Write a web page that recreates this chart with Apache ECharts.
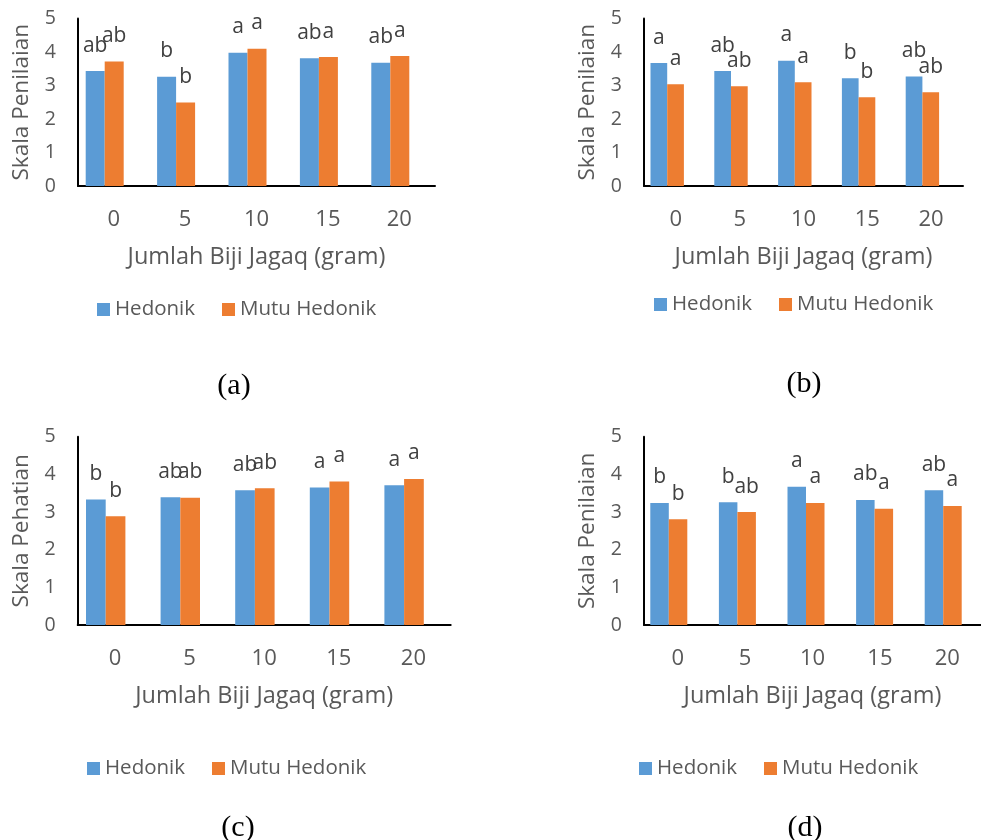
<!DOCTYPE html>
<html>
<head>
<meta charset="utf-8">
<script src="https://cdn.jsdelivr.net/npm/echarts@6/dist/echarts.min.js"></script>
<style>
html,body{margin:0;padding:0;background:#fff;}
#chart{width:981px;height:840px;}
</style>
</head>
<body>
<div id="chart"></div>
<script>
// ---- data ----
const categories = ['0', '5', '10', '15', '20'];
const seriesNames = ['Hedonik', 'Mutu Hedonik'];

const aHedonik = [3.43, 3.26, 3.98, 3.81, 3.68];
const aMutu    = [3.72, 2.49, 4.10, 3.85, 3.88];
const aHedonikLetters = ['ab', 'b', 'a', 'ab', 'ab'];
const aMutuLetters    = ['ab', 'b', 'a', 'a', 'a'];

const bHedonik = [3.67, 3.43, 3.74, 3.22, 3.27];
const bMutu    = [3.04, 2.98, 3.10, 2.65, 2.80];
const bHedonikLetters = ['a', 'ab', 'a', 'b', 'ab'];
const bMutuLetters    = ['a', 'ab', 'a', 'b', 'ab'];

const cHedonik = [3.33, 3.39, 3.58, 3.65, 3.71];
const cMutu    = [2.89, 3.38, 3.63, 3.81, 3.88];
const cHedonikLetters = ['b', 'ab', 'ab', 'a', 'a'];
const cMutuLetters    = ['b', 'ab', 'ab', 'a', 'a'];

const dHedonik = [3.24, 3.26, 3.67, 3.32, 3.58];
const dMutu    = [2.81, 3.00, 3.24, 3.09, 3.16];
const dHedonikLetters = ['b', 'b', 'a', 'ab', 'ab'];
const dMutuLetters    = ['b', 'ab', 'a', 'a', 'a'];

const yTicks = [0, 1, 2, 3, 4, 5];
const xAxisName = 'Jumlah Biji Jagaq (gram)';
const yAxisNames = ['Skala Penilaian', 'Skala Penilaian', 'Skala Pehatian', 'Skala Penilaian'];
const captions = ['(a)', '(b)', '(c)', '(d)'];

// ---- layout / style ----
const FONT = '"Open Sans", sans-serif';
const GRAY = '#595959';
const BLUE = '#5B9BD5';
const ORANGE = '#ED7D31';

const panels = [
  {hed: aHedonik, mutu: aMutu, hl: aHedonikLetters, ml: aMutuLetters,
   axisLeft: 78, width: 357, top: 18.5, height: 167.5, shift: 9, barW: 19,
   legend: {left: 97, top: 299}, cap: {x: 234, y: 386}},
  {hed: bHedonik, mutu: bMutu, hl: bHedonikLetters, ml: bMutuLetters,
   axisLeft: 644, width: 319, top: 18.5, height: 167.5, shift: 8.7, barW: 16.7,
   legend: {left: 654, top: 294}, cap: {x: 804, y: 384}},
  {hed: cHedonik, mutu: cMutu, hl: cHedonikLetters, ml: cMutuLetters,
   axisLeft: 77.7, width: 373, top: 436.7, height: 188.3, shift: 9.3, barW: 19.7,
   legend: {left: 87, top: 758}, cap: {x: 238, y: 828}},
  {hed: dHedonik, mutu: dMutu, hl: dHedonikLetters, ml: dMutuLetters,
   axisLeft: 644, width: 343, top: 436.7, height: 188.3, shift: 9.5, barW: 18.5,
   legend: {left: 639, top: 758}, cap: {x: 805, y: 828}}
];

const grid = [], xAxis = [], yAxis = [], series = [], legend = [], graphic = [];

panels.forEach((p, i) => {
  // axes grid (visible axes)
  grid.push({left: p.axisLeft, top: p.top, width: p.width, height: p.height, containLabel: false});
  // bars grid (hidden axes, shifted left)
  grid.push({left: p.axisLeft - p.shift, top: p.top, width: p.width, height: p.height, containLabel: false});
  const gA = 2 * i, gB = 2 * i + 1;

  xAxis.push({
    gridIndex: gA, type: 'category', data: categories,
    axisLine: {show: true, lineStyle: {color: '#000', width: 2}},
    axisTick: {show: false},
    axisLabel: {color: GRAY, fontFamily: FONT, fontSize: 22, margin: 23},
    name: xAxisName, nameLocation: 'middle', nameGap: 59,
    nameTextStyle: {color: GRAY, fontFamily: FONT, fontSize: 23.5}
  });
  xAxis.push({gridIndex: gB, type: 'category', data: categories, show: false});

  yAxis.push({
    gridIndex: gA, type: 'value', min: yTicks[0], max: yTicks[yTicks.length - 1], interval: 1,
    axisLine: {show: true, lineStyle: {color: '#000', width: 2}},
    axisTick: {show: false},
    splitLine: {show: false},
    axisLabel: {color: GRAY, fontFamily: FONT, fontSize: 19.5, margin: 22},
    name: yAxisNames[i], nameLocation: 'middle', nameGap: 45,
    nameTextStyle: {color: GRAY, fontFamily: FONT, fontSize: 22.5}
  });
  yAxis.push({gridIndex: gB, type: 'value', min: yTicks[0], max: yTicks[yTicks.length - 1], interval: 1, show: false});

  const mkLabel = (letters) => ({
    show: true, position: 'top', distance: 15,
    color: '#404040', fontFamily: FONT, fontSize: 21,
    formatter: (prm) => letters[prm.dataIndex]
  });

  series.push({
    name: seriesNames[0], type: 'bar', xAxisIndex: gB, yAxisIndex: gB,
    data: p.hed, barWidth: p.barW, barGap: '0%',
    itemStyle: {color: BLUE}, label: mkLabel(p.hl), animation: false
  });
  series.push({
    name: seriesNames[1], type: 'bar', xAxisIndex: gB, yAxisIndex: gB,
    data: p.mutu, barWidth: p.barW, barGap: '0%',
    itemStyle: {color: ORANGE}, label: mkLabel(p.ml), animation: false
  });

  legend.push({
    data: seriesNames, left: p.legend.left, top: p.legend.top, padding: 0,
    icon: 'rect', itemWidth: 13, itemHeight: 13, itemGap: 27,
    textStyle: {color: GRAY, fontFamily: FONT, fontSize: 20.5},
    selectedMode: false
  });

  graphic.push({
    type: 'text', x: p.cap.x, y: p.cap.y,
    style: {text: captions[i], fill: '#000', font: '30px "Liberation Serif", "Times New Roman", serif',
            textAlign: 'center', textVerticalAlign: 'middle'}
  });
});

const chart = echarts.init(document.getElementById('chart'), null, {renderer: 'canvas'});
chart.setOption({
  animation: false,
  backgroundColor: '#fff',
  grid, xAxis, yAxis, series, legend, graphic
});
</script>
</body>
</html>
